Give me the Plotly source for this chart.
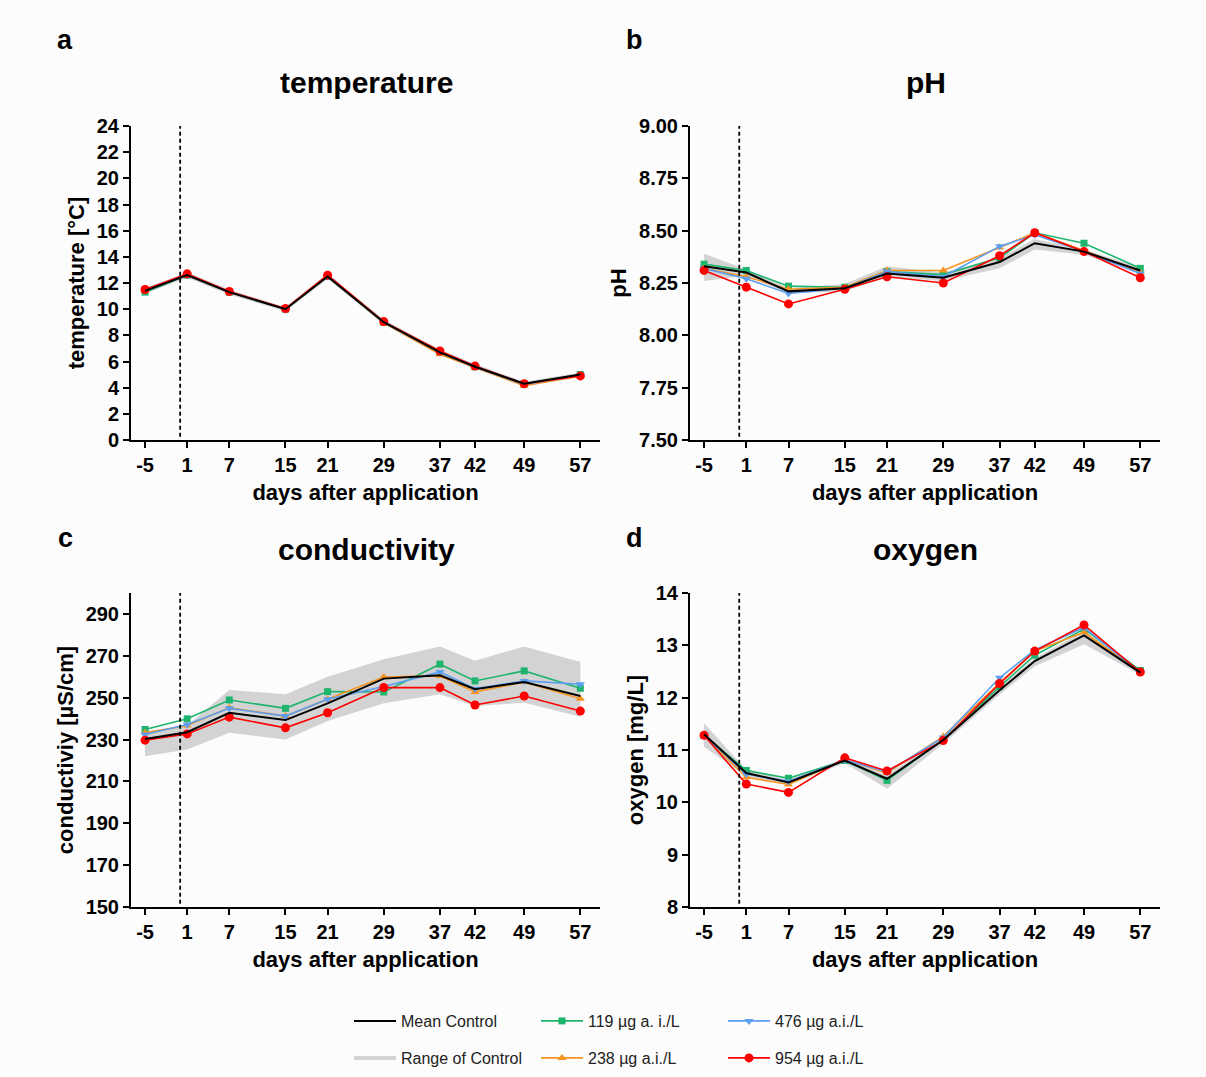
import plotly.graph_objects as go
from plotly.subplots import make_subplots

W, H = 1206, 1077

DAYS = [-5, 1, 7, 15, 21, 29, 37, 42, 49, 57]
DAY_LABELS = ["-5", "1", "7", "15", "21", "29", "37", "42", "49", "57"]
APPLICATION_DAY = [0]

# temperature [°C]
temp_mean = [11.4, 12.6, 11.3, 10.0, 12.5, 9.0, 6.7, 5.6, 4.3, 5.0]
temp_lo = [11.2, 12.4, 11.1, 9.85, 12.3, 8.85, 6.5, 5.45, 4.1, 4.8]
temp_hi = [11.6, 12.8, 11.5, 10.15, 12.7, 9.2, 6.9, 5.8, 4.45, 5.15]
temp_119 = [11.3, 12.6, 11.3, 10.0, 12.5, 9.0, 6.7, 5.6, 4.3, 5.0]
temp_238 = [11.4, 12.6, 11.3, 10.0, 12.5, 8.95, 6.55, 5.55, 4.15, 4.9]
temp_476 = [11.4, 12.6, 11.3, 10.0, 12.5, 9.0, 6.7, 5.6, 4.25, 4.95]
temp_954 = [11.5, 12.7, 11.35, 10.05, 12.6, 9.05, 6.8, 5.65, 4.3, 4.9]

# pH
ph_mean = [8.33, 8.30, 8.21, 8.225, 8.295, 8.275, 8.35, 8.44, 8.40, 8.31]
ph_lo = [8.26, 8.285, 8.20, 8.21, 8.28, 8.26, 8.32, 8.41, 8.385, 8.30]
ph_hi = [8.39, 8.315, 8.225, 8.245, 8.33, 8.30, 8.37, 8.46, 8.41, 8.325]
ph_119 = [8.34, 8.31, 8.235, 8.23, 8.305, 8.29, 8.37, 8.49, 8.44, 8.32]
ph_238 = [8.32, 8.28, 8.22, 8.23, 8.31, 8.31, 8.42, 8.49, 8.405, 8.30]
ph_476 = [8.32, 8.27, 8.20, 8.225, 8.305, 8.28, 8.425, 8.48, 8.40, 8.295]
ph_954 = [8.31, 8.23, 8.15, 8.22, 8.28, 8.25, 8.38, 8.49, 8.40, 8.275]

# conductivity [µS/cm]
cond_mean = [230.3, 233.5, 242.8, 239.3, 247.3, 259.1, 260.7, 254.0, 257.5, 250.8]
cond_lo = [222.0, 225.2, 233.2, 230.0, 238.8, 247.3, 251.6, 246.0, 247.6, 240.9]
cond_hi = [234.0, 236.7, 253.7, 251.6, 260.0, 268.4, 274.5, 267.6, 274.5, 267.0]
cond_119 = [234.8, 239.9, 248.9, 244.9, 252.9, 252.7, 266.0, 258.0, 262.8, 254.5]
cond_238 = [233.2, 236.7, 245.2, 241.2, 249.2, 259.9, 260.4, 252.7, 257.5, 249.5]
cond_476 = [232.4, 237.2, 244.9, 241.2, 249.2, 255.3, 262.3, 254.3, 258.0, 256.4]
cond_954 = [229.7, 232.7, 240.7, 235.6, 242.8, 254.8, 254.8, 246.5, 250.8, 243.6]

# oxygen [mg/L]
oxy_mean = [11.30, 10.56, 10.38, 10.80, 10.45, 11.19, 12.14, 12.70, 13.19, 12.48]
oxy_lo = [11.06, 10.50, 10.33, 10.75, 10.26, 11.12, 12.06, 12.60, 13.02, 12.44]
oxy_hi = [11.51, 10.62, 10.44, 10.84, 10.52, 11.25, 12.20, 12.76, 13.27, 12.51]
oxy_119 = [11.28, 10.61, 10.46, 10.80, 10.42, 11.20, 12.21, 12.81, 13.31, 12.52]
oxy_238 = [11.28, 10.48, 10.34, 10.82, 10.56, 11.26, 12.28, 12.89, 13.25, 12.48]
oxy_476 = [11.28, 10.54, 10.40, 10.81, 10.58, 11.24, 12.38, 12.91, 13.34, 12.48]
oxy_954 = [11.28, 10.35, 10.19, 10.85, 10.60, 11.18, 12.27, 12.89, 13.39, 12.49]

SERIES_NAMES = ["119 µg a. i./L", "238 µg a.i./L", "476 µg a.i./L", "954 µg a.i./L"]
SERIES_COLORS = ["#1fb46e", "#f7931e", "#5b9ef2", "#ff0000"]
SERIES_SYMBOLS = ["square", "triangle-up", "triangle-down", "circle"]
SERIES_SIZES = [7, 8, 8, 9]
SERIES_LEGEND = ["legend", "legend2", "legend", "legend2"]

FONT = "Liberation Sans"
GRAY = "#d3d3d3"


def px(x):
    return x / W


def py(y):
    return 1 - y / H


panels = [
    dict(mean=temp_mean, lo=temp_lo, hi=temp_hi, s=[temp_119, temp_238, temp_476, temp_954],
         title="temperature", ytitle="temperature [°C]", letter="a",
         yrange=[0, 24], ytick=list(range(0, 25, 2)), yfmt="",
         xd=(131, 600), yd=(126, 440)),
    dict(mean=ph_mean, lo=ph_lo, hi=ph_hi, s=[ph_119, ph_238, ph_476, ph_954],
         title="pH", ytitle="pH", letter="b",
         yrange=[7.5, 9.0], ytick=[7.5, 7.75, 8.0, 8.25, 8.5, 8.75, 9.0], yfmt=".2f",
         xd=(690, 1160), yd=(126, 440)),
    dict(mean=cond_mean, lo=cond_lo, hi=cond_hi, s=[cond_119, cond_238, cond_476, cond_954],
         title="conductivity", ytitle="conductiviy [µS/cm]", letter="c",
         yrange=[150, 300], ytick=list(range(150, 291, 20)), yfmt="",
         xd=(131, 600), yd=(593, 907)),
    dict(mean=oxy_mean, lo=oxy_lo, hi=oxy_hi, s=[oxy_119, oxy_238, oxy_476, oxy_954],
         title="oxygen", ytitle="oxygen [mg/L]", letter="d",
         yrange=[8, 14], ytick=list(range(8, 15)), yfmt="",
         xd=(690, 1160), yd=(593, 907)),
]

fig = make_subplots(rows=2, cols=2)

axis_common = dict(
    showline=True, linecolor="black", linewidth=2,
    ticks="outside", ticklen=6, tickwidth=2, tickcolor="black",
    showgrid=False, zeroline=False, automargin=False,
    tickfont=dict(family=FONT, size=20, color="black", weight="bold"),
)

annotations = []
shapes = []
for i, p in enumerate(panels):
    r, c = i // 2 + 1, i % 2 + 1
    first = i == 0
    # range of control
    fig.add_trace(go.Scatter(x=DAYS, y=p["lo"], mode="lines", line=dict(width=0, color=GRAY),
                             showlegend=False, hoverinfo="skip"), row=r, col=c)
    fig.add_trace(go.Scatter(x=DAYS, y=p["hi"], mode="lines", line=dict(width=0, color=GRAY),
                             fill="tonexty", fillcolor=GRAY, showlegend=False, hoverinfo="skip"),
                  row=r, col=c)
    if first:
        fig.add_trace(go.Scatter(x=[None], y=[None], mode="lines", name="Range of Control",
                                 line=dict(color=GRAY, width=4), showlegend=True,
                                 legend="legend2", legendrank=1), row=r, col=c)
    for k in range(4):
        fig.add_trace(go.Scatter(
            x=DAYS, y=p["s"][k], mode="lines+markers", name=SERIES_NAMES[k],
            line=dict(color=SERIES_COLORS[k], width=1.6),
            marker=dict(symbol=SERIES_SYMBOLS[k], size=SERIES_SIZES[k], color=SERIES_COLORS[k]),
            showlegend=first, legend=SERIES_LEGEND[k], legendrank=2 + k), row=r, col=c)
    # mean control (drawn on top)
    fig.add_trace(go.Scatter(x=DAYS, y=p["mean"], mode="lines", name="Mean Control",
                             line=dict(color="black", width=2), showlegend=first,
                             legend="legend", legendrank=1), row=r, col=c)

    xa = "xaxis" if i == 0 else f"xaxis{i + 1}"
    ya = "yaxis" if i == 0 else f"yaxis{i + 1}"
    fig.update_layout({
        xa: dict(axis_common, domain=[px(p["xd"][0]), px(p["xd"][1])], range=[-7, 59.8],
                 tickvals=DAYS, ticktext=DAY_LABELS,
                 title=dict(text="days after application", standoff=10,
                            font=dict(family=FONT, size=22, color="black", weight="bold"))),
        ya: dict(axis_common, domain=[py(p["yd"][1]), py(p["yd"][0])], range=p["yrange"],
                 tickvals=p["ytick"], tickformat=p["yfmt"],
                 title=dict(text=p["ytitle"], standoff=6,
                            font=dict(family=FONT, size=22, color="black", weight="bold"))),
    })
    xref = "x" if i == 0 else f"x{i + 1}"
    yref = "y" if i == 0 else f"y{i + 1}"
    shapes.append(dict(type="line", xref=xref, yref=f"{yref} domain",
                       x0=APPLICATION_DAY[0], x1=APPLICATION_DAY[0], y0=0.01, y1=1,
                       line=dict(color="black", width=1.8, dash="4px,3px")))
    annotations.append(dict(text=p["title"], xref="paper", yref="paper",
                            x=px(366 if c == 1 else 926), y=py(82 if r == 1 else 549),
                            xanchor="center", yanchor="middle", showarrow=False,
                            font=dict(family=FONT, size=30, color="black", weight="bold")))
    annotations.append(dict(text=p["letter"], xref="paper", yref="paper",
                            x=px(65 if c == 1 else 634), y=py(40 if r == 1 else 538),
                            xanchor="center", yanchor="middle", showarrow=False,
                            font=dict(family=FONT, size=27, color="black", weight="bold")))

legend_common = dict(
    orientation="h", xanchor="left", yanchor="top", entrywidth=130, entrywidthmode="pixels",
    itemwidth=42, bgcolor="rgba(0,0,0,0)", tracegroupgap=0, traceorder="normal",
    font=dict(family=FONT, size=16, color="#222222"),
)

fig.update_layout(
    width=W, height=H, autosize=False,
    margin=dict(l=0, r=0, t=0, b=0),
    paper_bgcolor="#fcfcfc", plot_bgcolor="#fcfcfc",
    font=dict(family=FONT, color="black"),
    shapes=shapes, annotations=annotations,
    legend=dict(legend_common, x=px(349), y=py(1004)),
    legend2=dict(legend_common, x=px(349), y=py(1041)),
)

fig.write_html("out.html")
